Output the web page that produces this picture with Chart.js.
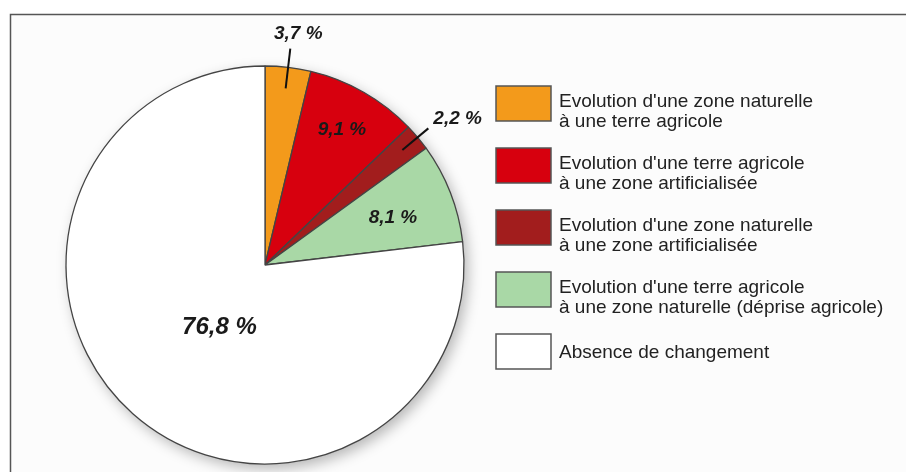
<!DOCTYPE html>
<html lang="fr">
<head>
<meta charset="utf-8">
<title>Evolution de l'occupation du sol</title>
<script src="https://cdn.jsdelivr.net/npm/chart.js@4"></script>
<style>
  html, body { margin: 0; padding: 0; background: #ffffff; }
  #wrap { position: relative; width: 906px; height: 472px; }
</style>
</head>
<body>
<div id="wrap"><canvas id="landChart" width="906" height="472"></canvas></div>
<script>
// Land-cover change shares (%), clockwise from 12 o'clock
const categories = [
  ["Evolution d'une zone naturelle", "à une terre agricole"],
  ["Evolution d'une terre agricole", "à une zone artificialisée"],
  ["Evolution d'une zone naturelle", "à une zone artificialisée"],
  ["Evolution d'une terre agricole", "à une zone naturelle (déprise agricole)"],
  ["Absence de changement"]
];
const shares = [3.7, 9.1, 2.2, 8.1, 76.8];
const valueLabels = shares.map(v => v.toFixed(1).replace('.', ',') + ' %');
const sliceColors = ['#F39A1B', '#D7000E', '#A21D1D', '#A9D8A6', '#FFFFFF'];

// where each value label sits: radius factor, pixel nudge, optional leader line
const labelStyle = [
  { r: 1.095, dx: 8, dy: -15, align: 'center', leader: [0.894, 1.095], size: 19 },
  { r: 0.78, dx: 0, dy: 0, align: 'center', size: 19 },
  { r: 1.07, dx: 5, dy: -10, align: 'left', leader: [0.9, 1.07], size: 19 },
  { r: 0.685, dx: 1, dy: 2, align: 'center', size: 19 },
  { r: 0.39, dx: 6, dy: 4, align: 'center', size: 24 }
];

const FONT = "'Liberation Sans', Arial, Helvetica, sans-serif";

const framePlugin = {
  id: 'frame',
  beforeDraw(chart) {
    const ctx = chart.ctx;
    ctx.save();
    ctx.fillStyle = '#fcfcfc';
    ctx.fillRect(10, 14, chart.width - 10, chart.height - 14);
    ctx.strokeStyle = '#555555';
    ctx.lineWidth = 1.5;
    ctx.beginPath();
    ctx.moveTo(chart.width, 14.5);
    ctx.lineTo(10.5, 14.5);
    ctx.lineTo(10.5, chart.height);
    ctx.stroke();
    ctx.restore();
  }
};

// soft drop shadow under the pie
const shadowPlugin = {
  id: 'pieShadow',
  beforeDatasetsDraw(chart) {
    const arc = chart.getDatasetMeta(0).data[0];
    if (!arc) return;
    const ctx = chart.ctx;
    ctx.save();
    ctx.shadowColor = 'rgba(0,0,0,0.28)';
    ctx.shadowBlur = 14;
    ctx.shadowOffsetX = 4;
    ctx.shadowOffsetY = 5;
    ctx.fillStyle = '#ffffff';
    ctx.beginPath();
    ctx.arc(arc.x, arc.y, arc.outerRadius, 0, Math.PI * 2);
    ctx.fill();
    ctx.restore();
  }
};

const valueLabelPlugin = {
  id: 'valueLabels',
  afterDatasetsDraw(chart) {
    const ctx = chart.ctx;
    const arcs = chart.getDatasetMeta(0).data;
    ctx.save();
    arcs.forEach((arc, i) => {
      const st = labelStyle[i];
      const mid = (arc.startAngle + arc.endAngle) / 2;
      const R = arc.outerRadius;
      const cos = Math.cos(mid), sin = Math.sin(mid);
      if (st.leader) {
        ctx.strokeStyle = '#111111';
        ctx.lineWidth = 2;
        ctx.beginPath();
        ctx.moveTo(arc.x + cos * R * st.leader[0], arc.y + sin * R * st.leader[0]);
        ctx.lineTo(arc.x + cos * R * st.leader[1], arc.y + sin * R * st.leader[1]);
        ctx.stroke();
      }
      ctx.font = `italic bold ${st.size}px ${FONT}`;
      ctx.fillStyle = '#1a1a1a';
      ctx.textAlign = st.align;
      ctx.textBaseline = 'middle';
      ctx.fillText(valueLabels[i], arc.x + cos * R * st.r + st.dx, arc.y + sin * R * st.r + st.dy);
    });
    ctx.restore();
  }
};

// legend on the right with two-line entries
const sideLegendPlugin = {
  id: 'sideLegend',
  afterDraw(chart) {
    const ctx = chart.ctx;
    const ds = chart.data.datasets[0];
    const left = 496, top = 86, step = 62, boxW = 55, boxH = 35, textX = 559, lineH = 20;
    ctx.save();
    chart.data.labels.forEach((lines, i) => {
      const y = top + i * step;
      ctx.fillStyle = ds.backgroundColor[i];
      ctx.fillRect(left, y, boxW, boxH);
      ctx.strokeStyle = '#555555';
      ctx.lineWidth = 1.5;
      ctx.strokeRect(left, y, boxW, boxH);
      ctx.font = `19px ${FONT}`;
      ctx.fillStyle = '#222222';
      ctx.textAlign = 'left';
      ctx.textBaseline = 'alphabetic';
      if (lines.length === 1) {
        ctx.fillText(lines[0], textX, y + 24);
      } else {
        lines.forEach((t, k) => ctx.fillText(t, textX, y + 21 + k * lineH));
      }
    });
    ctx.restore();
  }
};

new Chart(document.getElementById('landChart'), {
  type: 'pie',
  data: {
    labels: categories,
    datasets: [{
      data: shares,
      backgroundColor: sliceColors,
      borderColor: '#444444',
      borderWidth: 1.3,
      hoverOffset: 0,
      radius: 199
    }]
  },
  options: {
    responsive: false,
    devicePixelRatio: 1,
    animation: false,
    events: [],
    layout: { padding: { left: 66, top: 66, right: 442, bottom: 8 } },
    plugins: {
      legend: { display: false },
      tooltip: { enabled: false }
    }
  },
  plugins: [framePlugin, shadowPlugin, valueLabelPlugin, sideLegendPlugin]
});
</script>
</body>
</html>
